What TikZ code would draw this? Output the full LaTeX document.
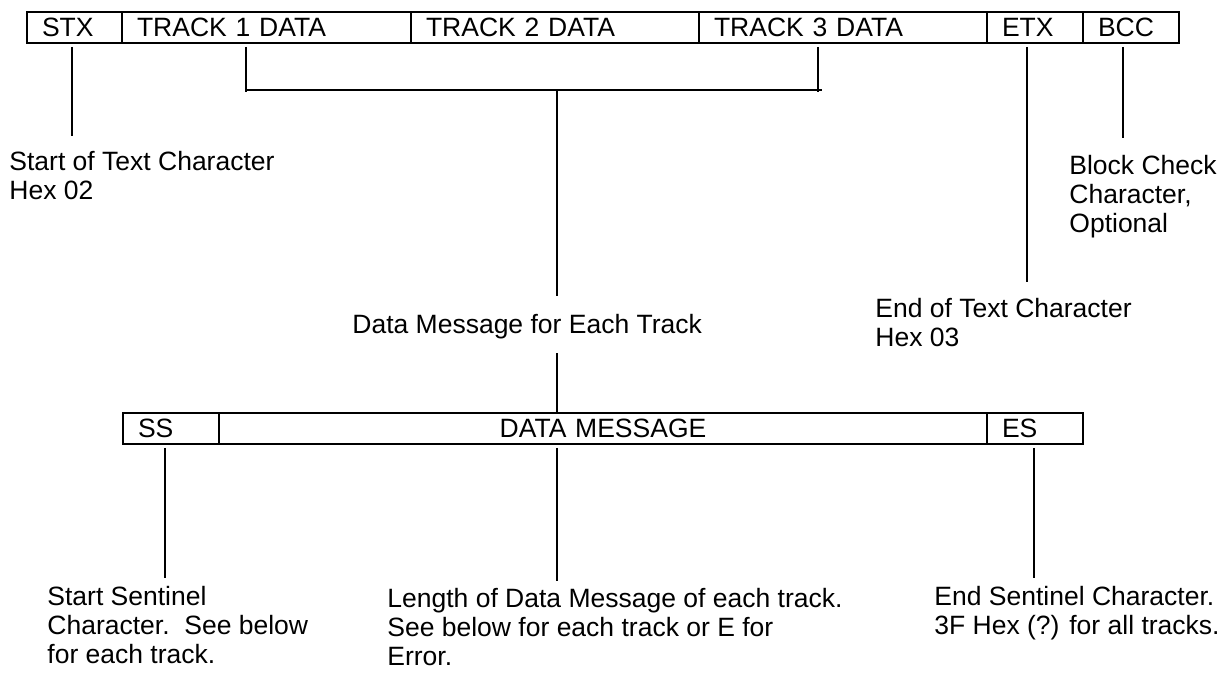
\documentclass[tikz,border=0pt]{standalone}
\usepackage{fontspec}
\setmainfont{Liberation Sans}
\usepackage{tikz}
\usetikzlibrary{positioning}
\tikzstyle{field} = [rectangle, draw, line width=0.8pt, inner xsep=7.5pt,
    inner ysep=3pt, outer sep=0pt, text height=9.5pt, text depth=0pt,
    align=left, anchor=north west]
\tikzstyle{note} = [inner sep=0pt, align=left, anchor=north west]
\tikzstyle{line} = [draw, line width=0.8pt]

\begin{document}
\begin{tikzpicture}[x=0.5pt, y=-0.5pt, font=\fontsize{13.25}{14.5}\selectfont]
			\useasboundingbox (0,0) rectangle (1228,673);
			%
			\node [field, text width=32.5pt] (stx) at (27,12) {STX};
			\node [field, text width=129.5pt, right=0pt of stx] (track1) {TRACK 1 DATA};
			\node [field, text width=129pt, right=0pt of track1] (track2) {TRACK 2 DATA};
			\node [field, text width=129pt, right=0pt of track2] (track3) {TRACK 3 DATA};
			\node [field, text width=33pt, right=0pt of track3] (etx) {ETX};
			\node [field, text width=33pt, right=0pt of etx] (bcc) {BCC};

			\node [field, text width=33pt] (ss) at (123,413) {SS};
			\node [field, text width=369pt, align=center, right=0pt of ss] (message) {DATA MESSAGE};
			\node [field, text width=33pt, right=0pt of message] (es) {ES};

			% labels
			\node [note] (stxnote) at (9,151) {Start of Text Character\\Hex 02};
			\node [note] (bccnote) at (1069,155) {Block Check\\Character,\\Optional};
			\node [note] (etxnote) at (875,298) {End of Text Character\\Hex 03};
			\node [note] (tracknote) at (352,314) {Data Message for Each Track};
			\node [note] (ssnote) at (47,586) {Start Sentinel\\Character.\ \ See below\\for each track.};
			\node [note] (messagenote) at (387,588) {Length of Data Message of each track.\\See below for each track or E for\\Error.};
			\node [note] (esnote) at (934,586) {End Sentinel Character.\\3F Hex (?) for all tracks.};

			% line ends
			\coordinate (stxfoot) at (72,136);
			\coordinate (bccfoot) at (1123,138);
			\coordinate (etxfoot) at (1027,282);
			\coordinate (leftfoot) at (246,92);
			\coordinate (rightfoot) at (818,92);
			\coordinate (bar) at (557,90);
			\coordinate (barfoot) at (557,296);
			\coordinate (ssfoot) at (165,578);
			\coordinate (messagefoot) at (557,581);
			\coordinate (esfoot) at (1034,578);

			% Draw edges
			\path [line] ([yshift=-2pt]stx.south -| stxfoot) -- (stxfoot);
			\path [line] ([yshift=-2pt]bcc.south -| bccfoot) -- (bccfoot);
			\path [line] ([yshift=-2pt]etx.south -| etxfoot) -- (etxfoot);
			\path [line] ([yshift=-2pt]track1.south -| leftfoot) -- (leftfoot);
			\path [line] ([yshift=-2pt]track3.south -| rightfoot) -- (rightfoot);
			\path [line] (leftfoot |- bar) -- ([xshift=2pt]rightfoot |- bar);
			\path [line] (bar) -- (barfoot);
			\path [line] ([yshift=-7pt]tracknote.south -| bar) -- (message.north -| bar);

			\path [line] ([yshift=-2pt]ss.south -| ssfoot) -- (ssfoot);
			\path [line] ([yshift=-2pt]message.south -| messagefoot) -- (messagefoot);
			\path [line] ([yshift=-2pt]es.south -| esfoot) -- (esfoot);
%
	\end{tikzpicture}
\end{document}
